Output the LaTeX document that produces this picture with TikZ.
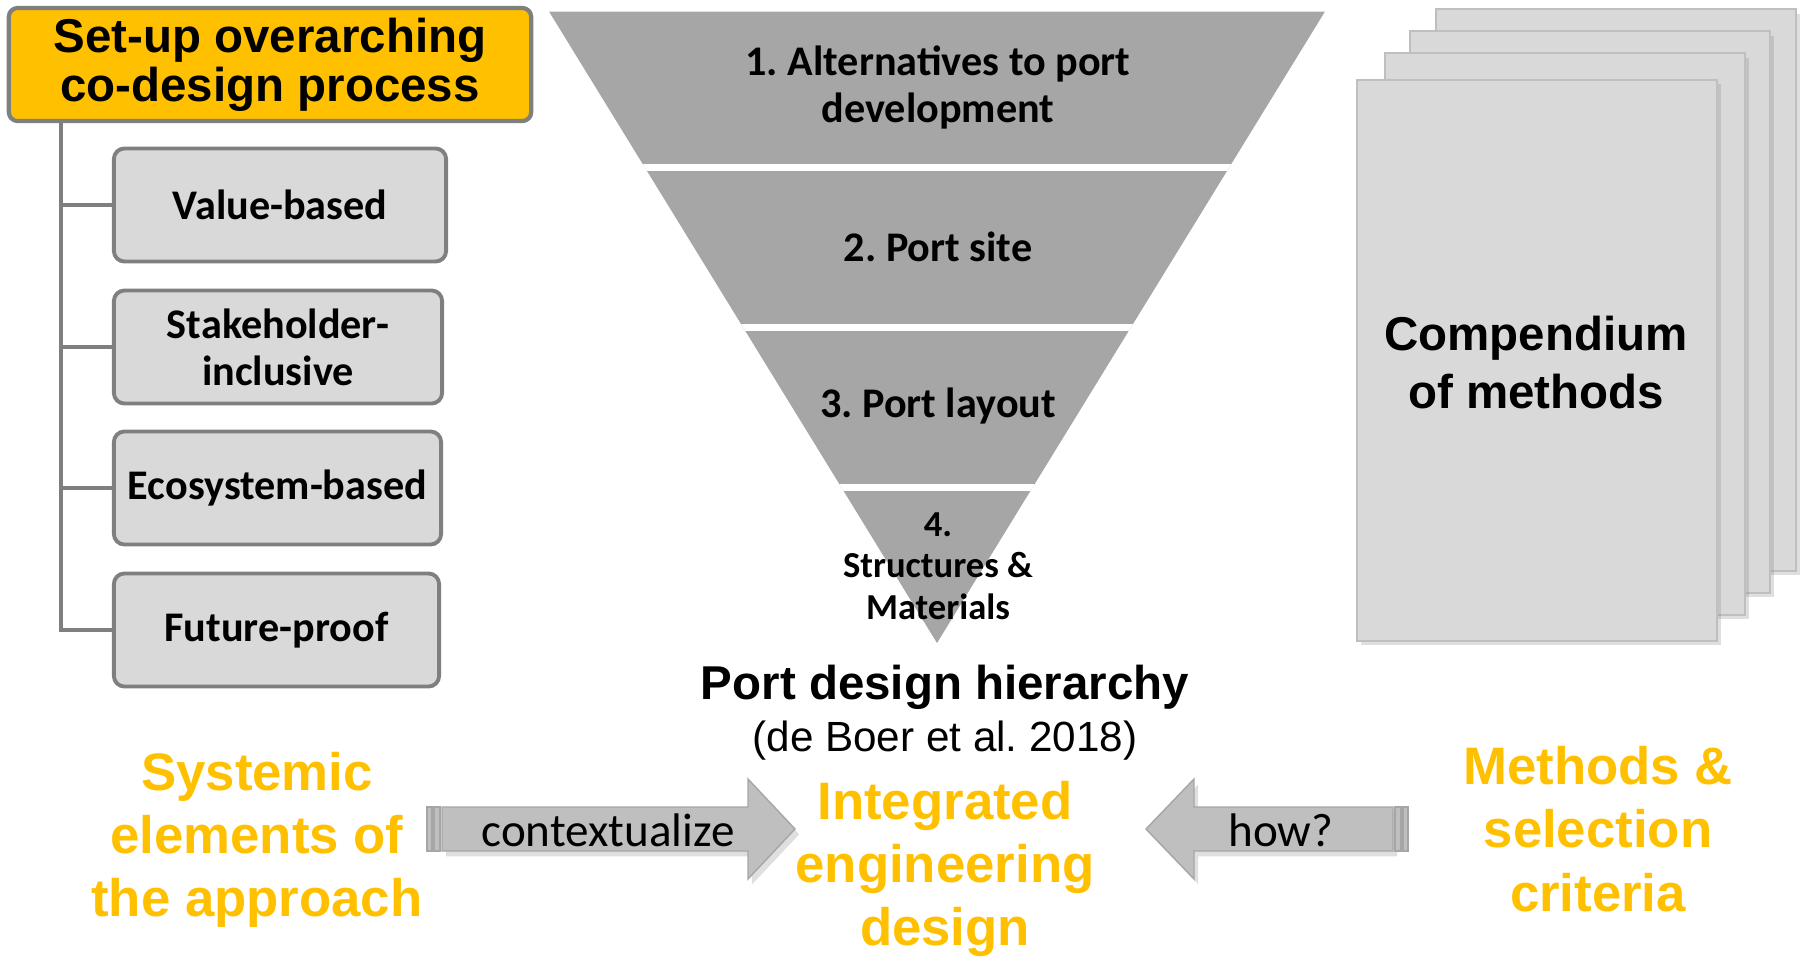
\documentclass[tikz,border=0pt]{standalone}
\usepackage{fontspec}
\setmainfont{Liberation Sans}
\newfontfamily\calfont{Carlito}
\usetikzlibrary{shadows}
\definecolor{orng}{HTML}{FFC000}
\definecolor{bordergray}{HTML}{7F7F7F}
\definecolor{boxgray}{HTML}{D9D9D9}
\definecolor{funnelgray}{HTML}{A6A6A6}
\definecolor{arrowgray}{HTML}{BFBFBF}
\definecolor{arrowline}{HTML}{A6A6A6}
\definecolor{pageline}{HTML}{BFBFBF}
\frenchspacing
\begin{document}
\begin{tikzpicture}[x=0.01cm,y=-0.01cm,
  topbox/.style={draw=bordergray,line width=1.2pt,fill=orng,rounded corners=2.5pt,
    minimum width=5.22cm,minimum height=1.13cm,align=center,inner sep=0pt,
    font=\fontsize{13.5}{14}\selectfont\bfseries},
  sidebox/.style={draw=bordergray,line width=1.1pt,fill=boxgray,rounded corners=3pt,
    minimum height=1.13cm,align=center,inner sep=0pt,
    font=\calfont\fontsize{12}{13.4}\selectfont\bfseries},
  tree/.style={draw=bordergray,line width=1.1pt},
  band/.style={align=center,inner sep=0pt,font=\calfont\fontsize{12}{13.4}\selectfont\bfseries},
  page/.style={draw=pageline,line width=0.5pt,fill=boxgray,minimum width=3.6cm,minimum height=5.61cm,
    inner sep=0pt,drop shadow={opacity=0.25,shadow xshift=1.2pt,shadow yshift=-1.2pt}},
  orangetxt/.style={align=center,inner sep=0pt,text=orng,font=\fontsize{15}{18}\selectfont\bfseries},
  blockarrow/.style={draw=arrowline,line width=0.4pt,fill=arrowgray,
    drop shadow={opacity=0.25,shadow xshift=1.2pt,shadow yshift=-1.5pt}},
  stripe/.style={draw=arrowline,line width=0.4pt,fill=arrowgray},
  arrowtxt/.style={inner sep=0pt,font=\calfont\fontsize{13.4}{15}\selectfont}
]
\useasboundingbox (0,0) rectangle (1802,960);

% ---- left column ----
\node[topbox] (top) at (270,64.5) {Set-up overarching\\co-design process};
\node[sidebox,minimum width=3.32cm] (val) at (280,205) {Value-based};
\node[sidebox,minimum width=3.28cm] (stk) at (278,347) {Stakeholder-\\inclusive};
\node[sidebox,minimum width=3.27cm] (eco) at (277.5,488) {Ecosystem-based};
\node[sidebox,minimum width=3.25cm] (fut) at (276.5,630) {Future-proof};
\coordinate (trunk) at (61,121);
\draw[tree] (trunk) |- (fut.west);
\draw[tree] (trunk |- val.west) -- (val.west);
\draw[tree] (trunk |- stk.west) -- (stk.west);
\draw[tree] (trunk |- eco.west) -- (eco.west);

% ---- funnel ----
\fill[funnelgray] (549,11.5) -- (1325,11.5) -- (937,643) -- cycle;
\begin{scope}
  \clip (549,11.5) -- (1325,11.5) -- (937,643) -- cycle;
  \fill[white] (500,164) rectangle (1400,171);
  \fill[white] (500,324) rectangle (1400,331);
  \fill[white] (500,484) rectangle (1400,491);
\end{scope}
\node[band] (b1) at (938,87.5) {1. Alternatives to port\\development};
\node[band] (b2) at (938,247) {2. Port site};
\node[band] (b3) at (938,406) {3. Port layout};
\node[band,font=\calfont\fontsize{10.4}{11.8}\selectfont\bfseries] (b4) at (938,566) {4.\\Structures \&\\Materials};
\node[inner sep=0pt,font=\fontsize{13.5}{16}\selectfont\bfseries] (pdh) at (945,687) {Port design hierarchy};
\node[inner sep=0pt,font=\fontsize{12}{14}\selectfont] (ref) at (945,741) {(de Boer et al. 2018)};

% ---- compendium ----
\node[page] (p4) at (1616,290) {};
\node[page] (p3) at (1590,312) {};
\node[page] (p2) at (1565,334) {};
\node[page] (p1) at (1537,360.5) {};
\node[align=center,inner sep=0pt,font=\fontsize{13.5}{16.5}\selectfont\bfseries] (comp) at (1536,363) {Compendium\\of methods};

% ---- bottom row ----
\node[orangetxt] (sys) at (257,840) {Systemic\\elements of\\the approach};
\node[orangetxt] (ied) at (945,869) {Integrated\\engineering\\design};
\node[orangetxt] (msc) at (1598,829) {Methods \&\\selection\\criteria};

% arrow "contextualize"
\filldraw[blockarrow] (442,807) -- (748,807) -- (748,779) -- (795,829) -- (748,879) -- (748,851) -- (442,851) -- cycle;
\filldraw[stripe] (427,807) rectangle (432,851);
\filldraw[stripe] (434,807) rectangle (440,851);
\node[arrowtxt] (t1) at (608,830) {contextualize};

% arrow "how?"
\filldraw[blockarrow] (1393,807) -- (1194,807) -- (1194,779) -- (1146,829) -- (1194,879) -- (1194,851) -- (1393,851) -- cycle;
\filldraw[stripe] (1395,807) rectangle (1401,851);
\filldraw[stripe] (1403,807) rectangle (1408,851);
\node[arrowtxt] (t2) at (1281,830) {how?};
\end{tikzpicture}
\end{document}
